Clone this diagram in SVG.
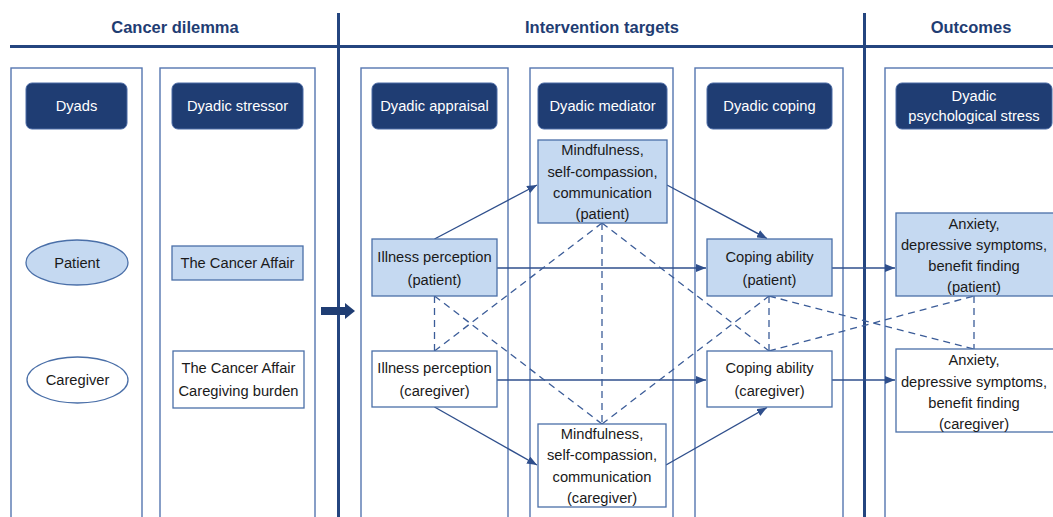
<svg xmlns="http://www.w3.org/2000/svg" width="1053" height="517" viewBox="0 0 1053 517">
<style>
  .title{font-family:"Liberation Sans",Arial,sans-serif;font-size:16.5px;font-weight:bold;fill:#1f3d73;text-anchor:middle}
  .hdr{fill:#1f3d73;stroke:#4a6aa5;stroke-width:1}
  .hdrt{font-family:"Liberation Sans",Arial,sans-serif;font-size:14.7px;fill:#ffffff;text-anchor:middle}
  .panel{fill:none;stroke:#5576b0;stroke-width:1.4}
  .sep{stroke:#24457f;stroke-width:3;fill:none}
  .lt{fill:#c5d9f1;stroke:#4a6fa8;stroke-width:1.3}
  .wt{fill:#ffffff;stroke:#4a6fa8;stroke-width:1.3}
  .t{font-family:"Liberation Sans",Arial,sans-serif;font-size:14.7px;fill:#1a1a1a;text-anchor:middle}
  .sol{stroke:#2f4f8c;stroke-width:1.4;fill:none}
  .dash{stroke:#3b5c98;stroke-width:1.3;fill:none;stroke-dasharray:7 5}
</style>
<defs>
  <marker id="ah" markerUnits="userSpaceOnUse" markerWidth="10" markerHeight="8" refX="10" refY="4" orient="auto">
    <path d="M0,0 L10,4 L0,8 z" fill="#2f4f8c"/>
  </marker>
</defs>
<rect width="1053" height="517" fill="#ffffff"/>

<g id="section-headers">
  <text class="title" x="175" y="33">Cancer dilemma</text>
  <text class="title" x="602" y="33">Intervention targets</text>
  <text class="title" x="971" y="33">Outcomes</text>
  <line class="sep" x1="10" y1="46.5" x2="1053" y2="46.5"/>
  <line class="sep" x1="338.5" y1="13" x2="338.5" y2="517"/>
  <line class="sep" x1="864.5" y1="13" x2="864.5" y2="517"/>
</g>

<g id="panels">
  <rect class="panel" x="11" y="68" width="131" height="460"/>
  <rect class="panel" x="160" y="68" width="155" height="460"/>
  <rect class="panel" x="361" y="68" width="147" height="460"/>
  <rect class="panel" x="530" y="68" width="143" height="460"/>
  <rect class="panel" x="695" y="68" width="148" height="460"/>
  <rect class="panel" x="885" y="68" width="180" height="460"/>
</g>

<g id="big-arrow">
  <path d="M321,307 L345,307 L345,303 L355,311 L345,319 L345,315 L321,315 z" fill="#1f3d73"/>
</g>

<g id="hdr-dyads"><rect class="hdr" x="26" y="83" width="101" height="46" rx="6"/><text class="hdrt" x="76.5" y="111">Dyads</text></g>
<g id="hdr-stressor"><rect class="hdr" x="172" y="83" width="131" height="46" rx="6"/><text class="hdrt" x="237.5" y="111">Dyadic stressor</text></g>
<g id="hdr-appraisal"><rect class="hdr" x="372" y="83" width="125" height="46" rx="6"/><text class="hdrt" x="434.5" y="111">Dyadic appraisal</text></g>
<g id="hdr-mediator"><rect class="hdr" x="538" y="83" width="129" height="46" rx="6"/><text class="hdrt" x="602.5" y="111">Dyadic mediator</text></g>
<g id="hdr-coping"><rect class="hdr" x="707" y="83" width="125" height="46" rx="6"/><text class="hdrt" x="769.5" y="111">Dyadic coping</text></g>
<g id="hdr-stress"><rect class="hdr" x="896" y="83" width="156" height="46" rx="6"/><text class="hdrt" x="974" y="101">Dyadic</text><text class="hdrt" x="974" y="121">psychological stress</text></g>

<g id="patient"><ellipse class="lt" cx="77" cy="262.5" rx="51" ry="22.5"/><text class="t" x="77" y="268">Patient</text></g>
<g id="caregiver"><ellipse class="wt" cx="77.5" cy="380" rx="50.5" ry="23"/><text class="t" x="77.5" y="385">Caregiver</text></g>

<g id="stressor-patient"><rect class="lt" x="172" y="246" width="131" height="34"/><text class="t" x="237.5" y="268">The Cancer Affair</text></g>
<g id="stressor-caregiver"><rect class="wt" x="173" y="351" width="131" height="57"/><text class="t" x="238.5" y="373">The Cancer Affair</text><text class="t" x="238.5" y="396">Caregiving burden</text></g>

<g id="connectors">
  <line class="sol" x1="434.5" y1="239" x2="537" y2="185" marker-end="url(#ah)"/>
  <line class="sol" x1="497" y1="268" x2="706" y2="268" marker-end="url(#ah)"/>
  <line class="sol" x1="667" y1="185" x2="767" y2="238.5" marker-end="url(#ah)"/>
  <line class="sol" x1="832" y1="268" x2="895" y2="268" marker-end="url(#ah)"/>
  <line class="sol" x1="497" y1="380" x2="706" y2="380" marker-end="url(#ah)"/>
  <line class="sol" x1="434.5" y1="407" x2="537" y2="465" marker-end="url(#ah)"/>
  <line class="sol" x1="666" y1="465" x2="767" y2="407.5" marker-end="url(#ah)"/>
  <line class="sol" x1="832" y1="380" x2="895" y2="380" marker-end="url(#ah)"/>

  <line class="dash" x1="434.5" y1="296" x2="434.5" y2="351"/>
  <line class="dash" x1="434.5" y1="296" x2="602" y2="424"/>
  <line class="dash" x1="434.5" y1="351" x2="602" y2="223"/>
  <line class="dash" x1="602" y1="223" x2="602" y2="424"/>
  <line class="dash" x1="602" y1="223" x2="769" y2="351"/>
  <line class="dash" x1="602" y1="424" x2="769" y2="296"/>
  <line class="dash" x1="769" y1="296" x2="769" y2="351"/>
  <line class="dash" x1="769" y1="296" x2="974" y2="349"/>
  <line class="dash" x1="769" y1="351" x2="974" y2="296"/>
  <line class="dash" x1="974" y1="296" x2="974" y2="349"/>
</g>

<g id="ip-patient"><rect class="lt" x="372" y="239" width="125" height="57"/><text class="t" x="434.5" y="261.5">Illness perception</text><text class="t" x="434.5" y="284.5">(patient)</text></g>
<g id="ip-caregiver"><rect class="wt" x="372" y="351" width="125" height="56"/><text class="t" x="434.5" y="373">Illness perception</text><text class="t" x="434.5" y="396">(caregiver)</text></g>

<g id="med-patient"><rect class="lt" x="538" y="140" width="129" height="83"/>
  <text class="t" x="602.5" y="155">Mindfulness,</text>
  <text class="t" x="602.5" y="176.5">self-compassion,</text>
  <text class="t" x="602.5" y="197.5">communication</text>
  <text class="t" x="602.5" y="219">(patient)</text></g>
<g id="med-caregiver"><rect class="wt" x="538" y="424" width="128" height="83"/>
  <text class="t" x="602" y="438.5">Mindfulness,</text>
  <text class="t" x="602" y="460">self-compassion,</text>
  <text class="t" x="602" y="481.5">communication</text>
  <text class="t" x="602" y="503">(caregiver)</text></g>

<g id="cope-patient"><rect class="lt" x="707" y="239" width="125" height="57"/><text class="t" x="769.5" y="261.5">Coping ability</text><text class="t" x="769.5" y="284.5">(patient)</text></g>
<g id="cope-caregiver"><rect class="wt" x="707" y="351" width="125" height="56"/><text class="t" x="769.5" y="373">Coping ability</text><text class="t" x="769.5" y="396">(caregiver)</text></g>

<g id="out-patient"><rect class="lt" x="896" y="213" width="160" height="83"/>
  <text class="t" x="974" y="228.5">Anxiety,</text>
  <text class="t" x="974" y="250">depressive symptoms,</text>
  <text class="t" x="974" y="270.5">benefit finding</text>
  <text class="t" x="974" y="292">(patient)</text></g>
<g id="out-caregiver"><rect class="wt" x="896" y="349" width="160" height="83"/>
  <text class="t" x="974" y="365">Anxiety,</text>
  <text class="t" x="974" y="386.5">depressive symptoms,</text>
  <text class="t" x="974" y="407.5">benefit finding</text>
  <text class="t" x="974" y="428.5">(caregiver)</text></g>
</svg>
